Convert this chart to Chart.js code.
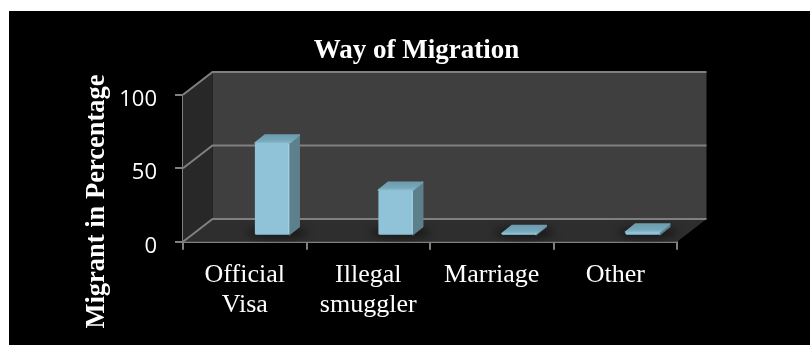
<!DOCTYPE html>
<html>
<head>
<meta charset="utf-8">
<title>Way of Migration</title>
<style>
  html, body { margin: 0; padding: 0; background: #ffffff; }
  canvas { position: absolute; left: 9px; top: 11px; background: #000000; }
</style>
<script src="https://cdn.jsdelivr.net/npm/chart.js@4/dist/chart.umd.min.js"></script>
</head>
<body>
<canvas id="chart" width="801" height="334"></canvas>
<script>
const categories = [["Official", "Visa"], ["Illegal", "smuggler"], "Marriage", "Other"];
const migrantShare = [63, 31, 1.5, 2.5];
const valueTicks = [0, 50, 100];
const chartTitle = "Way of Migration";
const valueAxisTitle = "Migrant in Percentage";

const SERIF = '"Liberation Serif", "Times New Roman", serif';
const GRID = "#808080";

// Projection of the box: how far the back wall sits from the front axes,
// how far a bar stands in from the front, and the depth of a single bar.
const WALL = { dx: 29.5, dy: -22.7 };
const BAR_INSET = { dx: 27.3, dy: -6 };
const BAR_DEPTH = { dx: 10, dy: -8 };

const box3d = {
  id: "box3d",
  beforeDatasetsDraw(chart) {
    const { ctx, chartArea: a, scales: { y } } = chart;
    const y0 = y.getPixelForValue(0), yMax = y.getPixelForValue(100);
    const l = a.left, r = a.right;
    const { dx, dy } = WALL;
    const poly = (pts, fill) => {
      ctx.beginPath();
      pts.forEach((p, i) => i ? ctx.lineTo(p[0], p[1]) : ctx.moveTo(p[0], p[1]));
      ctx.closePath();
      ctx.fillStyle = fill;
      ctx.fill();
    };
    ctx.save();
    poly([[l + dx, yMax + dy], [r + dx, yMax + dy], [r + dx, y0 + dy], [l + dx, y0 + dy]], "#3f3f3f");
    poly([[l, yMax], [l + dx, yMax + dy], [l + dx, y0 + dy], [l, y0]], "#282828");
    poly([[l, y0], [l + dx, y0 + dy], [r + dx, y0 + dy], [r, y0]], "#2e2e2e");

    ctx.strokeStyle = GRID;
    ctx.lineWidth = 2;
    valueTicks.forEach(v => {
      const py = y.getPixelForValue(v);
      ctx.beginPath();
      ctx.moveTo(l, py);
      ctx.lineTo(l + dx, py + dy);
      ctx.lineTo(r + dx, py + dy);
      ctx.stroke();
    });
    ctx.restore();
  },
  // Bars stand inside the box, so their whole layer is shifted back.
  beforeDatasetDraw(chart, args) {
    const { ctx } = chart;
    const bars = args.meta.data;
    bars.forEach(bar => {
      ctx.save();
      ctx.filter = "blur(4px)";
      ctx.fillStyle = "rgba(0,0,0,0.55)";
      ctx.beginPath();
      ctx.ellipse(bar.x + BAR_INSET.dx + BAR_DEPTH.dx / 2, bar.base + BAR_INSET.dy - 2, bar.width / 2 + 13, 5, 0, 0, Math.PI * 2);
      ctx.fill();
      ctx.restore();
    });
    ctx.save();
    ctx.translate(BAR_INSET.dx, BAR_INSET.dy);
    bars.forEach(bar => {
      const w = bar.width, L = bar.x - w / 2, R = bar.x + w / 2;
      const { dx, dy } = BAR_DEPTH;
      ctx.lineJoin = "round";
      ctx.lineWidth = 1.5;
      ctx.fillStyle = ctx.strokeStyle = "#5e7f8c";
      ctx.beginPath();
      ctx.moveTo(R, bar.y); ctx.lineTo(R + dx, bar.y + dy);
      ctx.lineTo(R + dx, bar.base + dy); ctx.lineTo(R, bar.base);
      ctx.closePath(); ctx.fill(); ctx.stroke();
      const top = ctx.createLinearGradient(0, bar.y, 0, bar.y + dy);
      top.addColorStop(0, "#86bacd");
      top.addColorStop(0.3, "#76a8ba");
      top.addColorStop(1, "#6d9dae");
      ctx.fillStyle = ctx.strokeStyle = top;
      ctx.beginPath();
      ctx.moveTo(L, bar.y); ctx.lineTo(L + dx, bar.y + dy);
      ctx.lineTo(R + dx, bar.y + dy); ctx.lineTo(R, bar.y);
      ctx.closePath(); ctx.fill(); ctx.stroke();
    });
  },
  afterDatasetDraw(chart, args) {
    const { ctx } = chart;
    // Pale bevel along the right edge of each front face.
    ctx.strokeStyle = "#a6d6e8";
    ctx.lineWidth = 1;
    args.meta.data.forEach(bar => {
      const R = bar.x + bar.width / 2 - 0.5;
      ctx.beginPath();
      ctx.moveTo(R, bar.y + 1);
      ctx.lineTo(R, bar.base - 1);
      ctx.stroke();
    });
    ctx.restore();
  },
  afterDraw(chart) {
    const { ctx, scales: { y } } = chart;
    ctx.save();
    ctx.translate(94.6, 190.5);
    ctx.rotate(-Math.PI / 2);
    ctx.font = `bold 26.5px ${SERIF}`;
    ctx.fillStyle = "#ffffff";
    ctx.textAlign = "center";
    ctx.textBaseline = "alphabetic";
    ctx.fillText(y.options.title.text, 0, 0);
    ctx.restore();
  }
};

new Chart(document.getElementById("chart"), {
  type: "bar",
  plugins: [box3d],
  data: {
    labels: categories,
    datasets: [{
      label: valueAxisTitle,
      data: migrantShare,
      yAxisID: "y",
      backgroundColor: "#90c3d8",
      borderRadius: 1.5,
      borderSkipped: false,
      barPercentage: 1,
      categoryPercentage: 0.278,
      clip: false
    }]
  },
  options: {
    responsive: false,
    animation: false,
    layout: { padding: { left: 14, right: 0, top: 0, bottom: 0 } },
    plugins: {
      legend: { display: false },
      tooltip: { enabled: false },
      title: {
        display: true,
        text: chartTitle,
        color: "#ffffff",
        font: { family: SERIF, size: 27, weight: "bold", lineHeight: 1.2 },
        padding: { top: 23.5, bottom: 27.8 }
      }
    },
    scales: {
      x: {
        afterFit(scale) { scale.height = 103.3; },
        border: { color: GRID, width: 2 },
        grid: { drawOnChartArea: false, color: GRID, lineWidth: 2, tickLength: 8 },
        ticks: {
          color: "#ffffff",
          autoSkip: false,
          maxRotation: 0,
          padding: 10,
          font: { family: SERIF, size: 26, lineHeight: 1.17 }
        }
      },
      y: {
        min: 0,
        max: 100,
        afterFit(scale) { scale.width = 160; },
        afterBuildTicks(scale) { scale.ticks = valueTicks.map(value => ({ value })); },
        title: { display: false, text: valueAxisTitle },
        border: { color: GRID, width: 2 },
        grid: { drawOnChartArea: false, color: GRID, lineWidth: 2, tickLength: 8 },
        ticks: {
          color: "#ffffff",
          padding: 18,
          labelOffset: 5,
          font: { family: '"Open Sans"', size: 22 }
        }
      },
      // Empty right-hand axis that only reserves the margin beside the box.
      margin: {
        position: "right",
        min: 0,
        max: 1,
        afterFit(scale) { scale.width = 133; },
        border: { display: false },
        grid: { display: false },
        ticks: { display: false }
      }
    }
  }
});
</script>
</body>
</html>
